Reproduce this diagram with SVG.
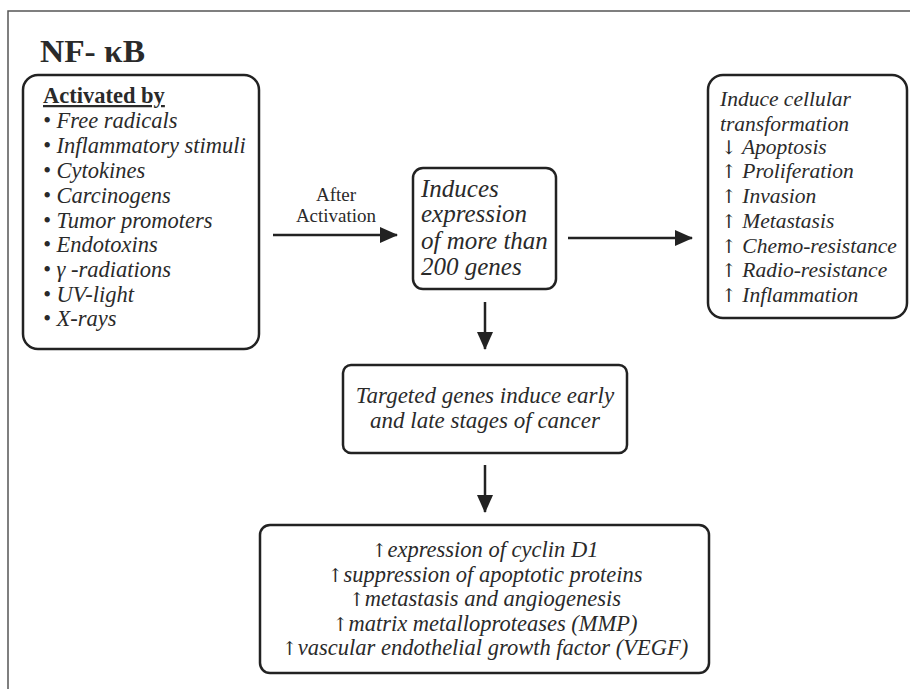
<svg xmlns="http://www.w3.org/2000/svg" width="910" height="689" viewBox="0 0 910 689">
<style>
.box{fill:#fff;stroke:#222;stroke-width:2.5}
.t{font-family:"Liberation Serif","Times New Roman",serif;fill:#2a2a2a}
.i{font-style:italic}
.a{font-family:"DejaVu Serif",serif;font-style:normal;font-weight:normal}
.c{stroke:#222;stroke-width:2.5;fill:none}
</style>
<defs>
<marker id="ah" markerWidth="18" markerHeight="16" refX="17" refY="8" orient="auto" markerUnits="userSpaceOnUse">
<path d="M0,0 L18,8 L0,16 Z" fill="#222"/>
</marker>
</defs>
<rect width="910" height="689" fill="#fff"/>
<path d="M8,689 V11 H910" fill="none" stroke="#555" stroke-width="1.5"/>
<text class="t" x="40" y="62" font-size="31" font-weight="bold" textLength="105" lengthAdjust="spacingAndGlyphs">NF- κB</text>
<g id="activated">
<rect class="box" x="23" y="75" width="236" height="274" rx="15"/>
<text class="t" x="43" y="103" font-size="22.5" font-weight="bold" text-decoration="underline">Activated by</text>
<g class="t i" font-size="22.5">
<text x="43" y="128">• Free radicals</text>
<text x="43" y="153">• Inflammatory stimuli</text>
<text x="43" y="178">• Cytokines</text>
<text x="43" y="203">• Carcinogens</text>
<text x="43" y="228">• Tumor promoters</text>
<text x="43" y="252">• Endotoxins</text>
<text x="43" y="277">• γ -radiations</text>
<text x="43" y="302">• UV-light</text>
<text x="43" y="326">• X-rays</text>
</g>
</g>
<g id="induces">
<rect class="box" x="413" y="168" width="143" height="121" rx="10"/>
<g class="t i" font-size="25">
<text x="421" y="197">Induces</text>
<text x="421" y="222">expression</text>
<text x="421" y="249">of more than</text>
<text x="421" y="275">200 genes</text>
</g>
</g>
<g id="transformation">
<rect class="box" x="708" y="75" width="199" height="243" rx="15"/>
<g class="t i" font-size="21.5">
<text x="720" y="106">Induce cellular</text>
<text x="720" y="131">transformation</text>
<text x="721" y="154"><tspan class="a" font-size="19">↓</tspan> Apoptosis</text>
<text x="721" y="178"><tspan class="a" font-size="19">↑</tspan> Proliferation</text>
<text x="721" y="203"><tspan class="a" font-size="19">↑</tspan> Invasion</text>
<text x="721" y="228"><tspan class="a" font-size="19">↑</tspan> Metastasis</text>
<text x="721" y="253"><tspan class="a" font-size="19">↑</tspan> Chemo-resistance</text>
<text x="721" y="277"><tspan class="a" font-size="19">↑</tspan> Radio-resistance</text>
<text x="721" y="302"><tspan class="a" font-size="19">↑</tspan> Inflammation</text>
</g>
</g>
<g id="targeted">
<rect class="box" x="343" y="365" width="284" height="88" rx="8"/>
<g class="t i" font-size="23" text-anchor="middle">
<text x="485" y="403">Targeted genes induce early</text>
<text x="485" y="428">and late stages of cancer</text>
</g>
</g>
<g id="effects">
<rect class="box" x="260" y="525" width="449" height="148" rx="10"/>
<g class="t i" font-size="22.5" text-anchor="middle">
<text x="485" y="557"><tspan class="a" font-size="19">↑</tspan>expression of cyclin D1</text>
<text x="485" y="582"><tspan class="a" font-size="19">↑</tspan>suppression of apoptotic proteins</text>
<text x="485" y="606"><tspan class="a" font-size="19">↑</tspan>metastasis and angiogenesis</text>
<text x="485" y="631"><tspan class="a" font-size="19">↑</tspan>matrix metalloproteases (MMP)</text>
<text x="485" y="655"><tspan class="a" font-size="19">↑</tspan>vascular endothelial growth factor (VEGF)</text>
</g>
</g>
<g id="connectors">
<line class="c" x1="273" y1="235" x2="397" y2="235" marker-end="url(#ah)"/>
<g class="t" font-size="19" text-anchor="middle">
<text x="336" y="201">After</text>
<text x="336" y="222">Activation</text>
</g>
<line class="c" x1="568" y1="238" x2="692" y2="238" marker-end="url(#ah)"/>
<line class="c" x1="485" y1="302" x2="485" y2="349" marker-end="url(#ah)"/>
<line class="c" x1="485" y1="465" x2="485" y2="512" marker-end="url(#ah)"/>
</g>
</svg>
